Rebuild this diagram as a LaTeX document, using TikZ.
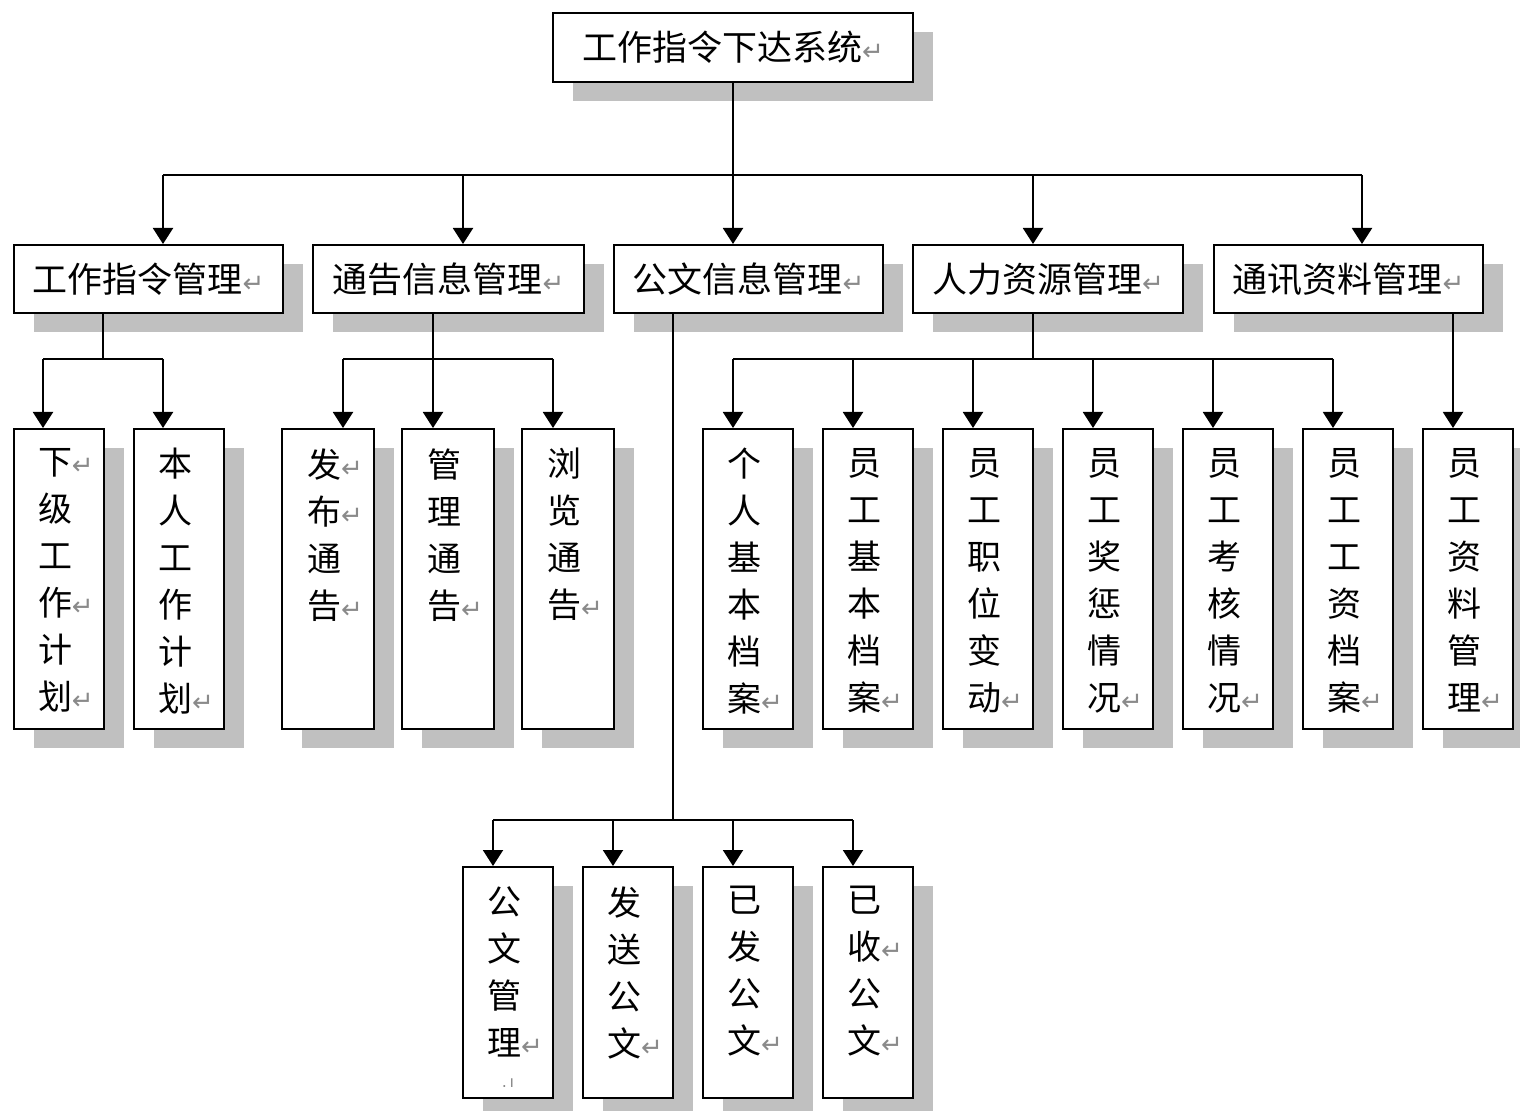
\documentclass[tikz,border=0pt]{standalone}
\usepackage{fontspec}
\setmainfont{Noto Sans CJK SC}
\newfontfamily\symfont{DejaVu Sans}
\usetikzlibrary{arrows.meta,shadows}
\definecolor{shgray}{HTML}{C0C0C0}
\definecolor{mkgray}{HTML}{8A8A8A}
\newcommand{\rmk}{{\symfont\color{mkgray}\fontsize{13}{13}\selectfont ↵}}
\newcommand{\rmkv}{\rlap{\rmk}}
\begin{document}
\begin{tikzpicture}[x={(0.5pt,0)}, y={(0,-0.5pt)},
  bx/.style={draw, line width=1pt, fill=white, inner sep=0pt, anchor=north west,
    drop shadow={shadow xshift=10pt, shadow yshift=-9.5pt, fill=shgray, opacity=1}},
  topbox/.style={bx, minimum width=180pt, minimum height=34.5pt, font=\fontsize{17.5}{20}\selectfont},
  midbox/.style={bx, minimum width=134.5pt, minimum height=34pt, font=\fontsize{17.5}{20}\selectfont},
  leaf/.style={bx, minimum width=45pt, minimum height=150pt},
  leafw/.style={bx, minimum width=46pt, minimum height=150pt},
  lowleaf/.style={bx, minimum width=45pt, minimum height=115.5pt},
  vtxt/.style={anchor=north, inner sep=0pt, align=center, font=\fontsize{17}{23.5}\selectfont},
  ln/.style={draw, line width=1pt},
  arr/.style={draw, line width=1pt, -{Triangle[width=10pt,length=8pt]}}]
\path[fill=white] (0,0) rectangle (1520,1111);
\useasboundingbox (0,0) rectangle (1520,1111);

% root
\node[topbox] (root) at (552,12) {工作指令下达系统\rmk};

% level 2
\node[midbox] (A) at (13,244) {工作指令管理\rmk};
\node[midbox, minimum width=135.5pt] (B) at (312,244) {通告信息管理\rmk};
\node[midbox] (C) at (613,244) {公文信息管理\rmk};
\node[midbox, minimum width=135pt] (D) at (912,244) {人力资源管理\rmk};
\node[midbox] (E) at (1213,244) {通讯资料管理\rmk};

% leaves of A
\node[leaf] (a1) at (13,428) {};
\node[leaf] (a2) at (133,428) {};
% leaves of B
\node[leafw] (b1) at (281,428) {};
\node[leafw] (b2) at (401,428) {};
\node[leafw] (b3) at (521,428) {};
% leaves of D
\node[leaf] (d1) at (702,428) {};
\node[leaf] (d2) at (822,428) {};
\node[leaf] (d3) at (942,428) {};
\node[leaf] (d4) at (1062,428) {};
\node[leaf] (d5) at (1182,428) {};
\node[leaf] (d6) at (1302,428) {};
% leaf of E
\node[leaf] (e1) at (1422,428) {};
% leaves of C
\node[lowleaf] (c1) at (462,866) {};
\node[lowleaf] (c2) at (582,866) {};
\node[lowleaf] (c3) at (702,866) {};
\node[lowleaf] (c4) at (822,866) {};

% leaf texts
\node[vtxt] (a1t) at ([xshift=-2pt,yshift=-10pt]a1.north) {下\rmkv\\级\\工\\作\rmkv\\计\\划\rmkv};
\node[vtxt] (a2t) at ([xshift=-2pt,yshift=-10pt]a2.north) {本\\人\\工\\作\\计\\划\rmkv};
\node[vtxt] (b1t) at ([xshift=-2pt,yshift=-10pt]b1.north) {发\rmkv\\布\rmkv\\通\\告\rmkv};
\node[vtxt] (b2t) at ([xshift=-2pt,yshift=-10pt]b2.north) {管\\理\\通\\告\rmkv};
\node[vtxt] (b3t) at ([xshift=-2pt,yshift=-10pt]b3.north) {浏\\览\\通\\告\rmkv};
\node[vtxt] (d1t) at ([xshift=-2pt,yshift=-10pt]d1.north) {个\\人\\基\\本\\档\\案\rmkv};
\node[vtxt] (d2t) at ([xshift=-2pt,yshift=-10pt]d2.north) {员\\工\\基\\本\\档\\案\rmkv};
\node[vtxt] (d3t) at ([xshift=-2pt,yshift=-10pt]d3.north) {员\\工\\职\\位\\变\\动\rmkv};
\node[vtxt] (d4t) at ([xshift=-2pt,yshift=-10pt]d4.north) {员\\工\\奖\\惩\\情\\况\rmkv};
\node[vtxt] (d5t) at ([xshift=-2pt,yshift=-10pt]d5.north) {员\\工\\考\\核\\情\\况\rmkv};
\node[vtxt] (d6t) at ([xshift=-2pt,yshift=-10pt]d6.north) {员\\工\\工\\资\\档\\案\rmkv};
\node[vtxt] (e1t) at ([xshift=-2pt,yshift=-10pt]e1.north) {员\\工\\资\\料\\管\\理\rmkv};
\node[vtxt] (c1t) at ([xshift=-2pt,yshift=-10pt]c1.north) {公\\文\\管\\理\rmkv};
\node[anchor=center, inner sep=0pt, font=\symfont\fontsize{8}{8}\selectfont, text=mkgray] (c1m) at ([yshift=8pt]c1.south) {.\,ı};
\node[vtxt] (c2t) at ([xshift=-2pt,yshift=-10pt]c2.north) {发\\送\\公\\文\rmkv};
\node[vtxt] (c3t) at ([xshift=-2pt,yshift=-10pt]c3.north) {已\\发\\公\\文\rmkv};
\node[vtxt] (c4t) at ([xshift=-2pt,yshift=-10pt]c4.north) {已\\收\rmkv\\公\\文\rmkv};

% root connectors
\coordinate (rL) at (163,175);
\coordinate (rB) at (463,175);
\coordinate (rC) at (733,175);
\coordinate (rD) at (1033,175);
\coordinate (rR) at (1362,175);
\draw[ln] (rC |- root.south) -- (rC);
\draw[ln] (rL) -- (rR);
\draw[arr] (rL) -- (rL |- A.north);
\draw[arr] (rB) -- (rB |- B.north);
\draw[arr] (rC) -- (rC |- C.north);
\draw[arr] (rD) -- (rD |- D.north);
\draw[arr] (rR) -- (rR |- E.north);

% A connectors
\coordinate (aJ) at (103,359);
\coordinate (aL) at (43,359);
\coordinate (aR) at (163,359);
\draw[ln] (aJ |- A.south) -- (aJ);
\draw[ln] (aL) -- (aR);
\draw[arr] (aL) -- (aL |- a1.north);
\draw[arr] (aR) -- (aR |- a2.north);

% B connectors
\coordinate (bJ) at (433,359);
\coordinate (bL) at (343,359);
\coordinate (bR) at (553,359);
\draw[ln] (bL) -- (bR);
\draw[arr] (bJ |- B.south) -- (bJ |- b2.north);
\draw[arr] (bL) -- (bL |- b1.north);
\draw[arr] (bR) -- (bR |- b3.north);

% C connectors
\coordinate (cJ) at (673,820);
\coordinate (c1p) at (493,820);
\coordinate (c2p) at (613,820);
\coordinate (c3p) at (733,820);
\coordinate (c4p) at (853,820);
\draw[ln] (cJ |- C.south) -- (cJ);
\draw[ln] (c1p) -- (c4p);
\draw[arr] (c1p) -- (c1p |- c1.north);
\draw[arr] (c2p) -- (c2p |- c2.north);
\draw[arr] (c3p) -- (c3p |- c3.north);
\draw[arr] (c4p) -- (c4p |- c4.north);

% D connectors
\coordinate (dJ) at (1033,359);
\coordinate (d1p) at (733,359);
\coordinate (d2p) at (853,359);
\coordinate (d3p) at (973,359);
\coordinate (d4p) at (1093,359);
\coordinate (d5p) at (1213,359);
\coordinate (d6p) at (1333,359);
\draw[ln] (dJ |- D.south) -- (dJ);
\draw[ln] (d1p) -- (d6p);
\draw[arr] (d1p) -- (d1p |- d1.north);
\draw[arr] (d2p) -- (d2p |- d2.north);
\draw[arr] (d3p) -- (d3p |- d3.north);
\draw[arr] (d4p) -- (d4p |- d4.north);
\draw[arr] (d5p) -- (d5p |- d5.north);
\draw[arr] (d6p) -- (d6p |- d6.north);

% E connector
\coordinate (eJ) at (1453,359);
\draw[arr] (eJ |- E.south) -- (eJ |- e1.north);
\end{tikzpicture}
\end{document}
